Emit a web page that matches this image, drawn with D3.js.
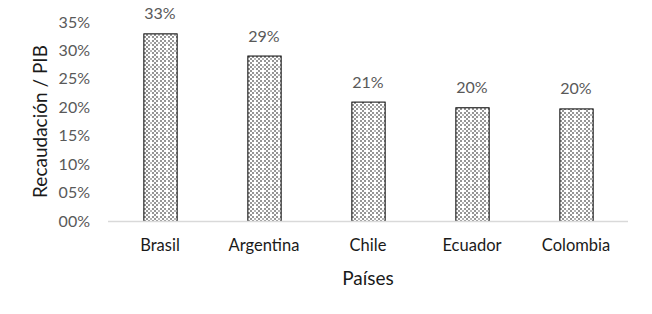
<!DOCTYPE html>
<html>
<head>
<meta charset="utf-8">
<script src="https://cdn.jsdelivr.net/npm/d3@7"></script>
<style>
	body { margin: 0; background: #fff; }
	text { font-family: Lato, "Open Sans", sans-serif; }
</style>
</head>
<body>
<svg id="chart" width="652" height="314"></svg>
<script>
const paises = ["Brasil", "Argentina", "Chile", "Ecuador", "Colombia"];
const recaudacion = [33, 29.1, 21, 20, 19.8];
const yTicks = [0, 5, 10, 15, 20, 25, 30, 35];

const colors = {
	tick: "#595959",
	label: "#1a1a1a",
	axis: "#d9d9d9",
	dots: "#959595",
};

const margin = { top: 22, right: 24, bottom: 93, left: 108 };
const width = 652;
const height = 314;

const svg = d3.select("#chart");

// checker pattern like the excel fill
const defs = svg.append("defs");
const pat = defs
	.append("pattern")
	.attr("id", "dots")
	.attr("width", 8)
	.attr("height", 8)
	.attr("patternUnits", "userSpaceOnUse");
pat.append("rect").attr("width", 8).attr("height", 8).attr("fill", "#fff");
[[0, 0], [4, 0], [2, 2], [0, 4], [4, 4], [2, 6]].forEach(([px, py]) => {
	pat.append("rect").attr("x", px).attr("y", py).attr("width", 2).attr("height", 2).attr("fill", colors.dots);
});
pat.append("rect").attr("x", 6).attr("y", 2).attr("width", 2).attr("height", 2).attr("fill", "#b5b5b5");

const x = d3
	.scaleBand()
	.domain(paises)
	.range([margin.left, width - margin.right])
	.paddingInner(0.68)
	.paddingOuter(0.34);

const y = d3
	.scaleLinear()
	.domain([0, 35])
	.range([height - margin.bottom, margin.top]);

// y labels
svg
	.append("g")
	.selectAll("text")
	.data(yTicks)
	.join("text")
	.attr("x", 90)
	.attr("y", (d) => y(d))
	.attr("dy", "0.35em")
	.attr("text-anchor", "end")
	.attr("font-size", 16)
	.attr("fill", colors.tick)
	.text((d) => d3.format("02d")(d) + "%");

const data = paises.map((p, i) => ({ pais: p, value: recaudacion[i] }));

svg
	.append("g")
	.selectAll("rect")
	.data(data)
	.join("rect")
	.attr("x", (d) => x(d.pais) + 0.5)
	.attr("y", (d) => y(d.value) + 0.5)
	.attr("width", x.bandwidth())
	.attr("height", (d) => y(0) - y(d.value))
	.attr("fill", "url(#dots)")
	.attr("stroke", "#000")
	.attr("stroke-width", 1);

// x axis line
svg
	.append("line")
	.attr("x1", margin.left)
	.attr("x2", width - margin.right)
	.attr("y1", y(0) + 0.5)
	.attr("y2", y(0) + 0.5)
	.attr("stroke", colors.axis)
	.attr("stroke-width", 1.5);

// value labels
svg
	.append("g")
	.selectAll("text")
	.data(data)
	.join("text")
	.attr("x", (d) => x(d.pais) + x.bandwidth() / 2)
	.attr("y", (d) => y(d.value) - 14)
	.attr("text-anchor", "middle")
	.attr("font-size", 16)
	.attr("fill", colors.tick)
	.text((d) => Math.round(d.value) + "%");

// category labels
svg
	.append("g")
	.selectAll("text")
	.data(paises)
	.join("text")
	.attr("x", (d) => x(d) + x.bandwidth() / 2)
	.attr("y", 251)
	.attr("text-anchor", "middle")
	.attr("font-size", 16.5)
	.attr("fill", colors.label)
	.text((d) => d);

svg
	.append("text")
	.attr("x", (margin.left + width - margin.right) / 2)
	.attr("y", 285)
	.attr("text-anchor", "middle")
	.attr("font-size", 19)
	.attr("fill", colors.label)
	.text("Países");

svg
	.append("text")
	.attr("transform", `translate(47, ${y(17.5)}) rotate(-90)`)
	.attr("text-anchor", "middle")
	.attr("font-size", 19)
	.attr("fill", colors.label)
	.text("Recaudación / PIB");
</script>
</body>
</html>
